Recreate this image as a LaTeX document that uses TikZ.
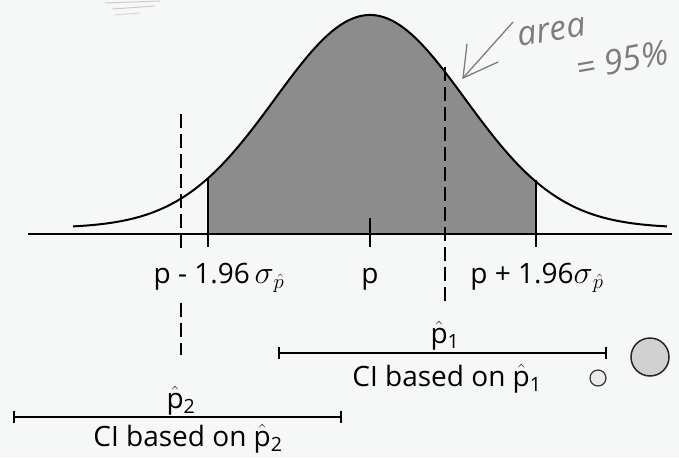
\documentclass[tikz,border=0pt]{standalone}
\usepackage{amsmath}
\usepackage{fontspec}
\setmainfont{Open Sans}
\definecolor{paper}{RGB}{246,248,247}
\definecolor{areagray}{RGB}{140,140,140}
\definecolor{pencil}{RGB}{125,125,125}
\tikzset{
  curveline/.style={line width=2pt},
  axisline/.style={line width=2pt},
  tickline/.style={line width=1.6pt},
  dashline/.style={line width=1.5pt, dash pattern=on 14pt off 6pt},
  barline/.style={line width=1.8pt, |-|},
  lbl/.style={font=\fontsize{28}{30}\selectfont, inner sep=0pt, anchor=base},
  hand/.style={font=\fontsize{34}{36}\selectfont\itshape, text=pencil, inner sep=0pt},
  handline/.style={draw=pencil, line width=1.3pt, line cap=round}
}
\newcommand{\phat}{\ensuremath{\hat{\text{p}}}}
\newcommand{\sigp}{\ensuremath{\scalebox{1.3}{$\sigma$}_{\hat{p}}}}
\begin{document}
\begin{tikzpicture}[x=1pt,y=-1pt]
\useasboundingbox (0,0) rectangle (679,458);
\fill[paper] (0,0) rectangle (679,458);
% shaded area
\fill[areagray] (208,233) -- plot[domain=208:536, samples=120] (\x, {228 - 213*exp(-((\x-370)/95)^2/2)}) -- (536,233) -- cycle;
% curve
\draw[curveline] plot[domain=73:667, samples=200, smooth] (\x, {228 - 213*exp(-((\x-370)/95)^2/2)});
% axis
\coordinate (axL) at (28,234);
\coordinate (axR) at (672,234);
\draw[axisline] (axL) -- (axR);
% ticks
\coordinate (tLt) at (208,179);
\coordinate (tLb) at (208,247);
\coordinate (tRt) at (536,180);
\coordinate (tRb) at (536,247);
\coordinate (tCt) at (370,218);
\coordinate (tCb) at (370,247);
\draw[tickline] (tLt) -- (tLb);
\draw[tickline] (tRt) -- (tRb);
\draw[tickline] (tCt) -- (tCb);
% labels under axis
\node[lbl] (lminus) at (219,283) {p - 1.96\,\sigp};
\node[lbl] (lp) at (370,283) {p};
\node[lbl] (lplus) at (537,283) {p + 1.96\sigp};
% p-hat 1
\node[lbl] (ph1) at (445,343) {\phat$_{\text{1}}$};
\coordinate (d1t) at (445,67);
\coordinate (d1b) at (445,307);
\draw[dashline] (d1t) -- (d1b);
\coordinate (b1l) at (278,353);
\coordinate (b1r) at (607,353);
\draw[barline] (b1l) -- (b1r);
\node[lbl] (ci1) at (447,386) {CI based on \phat$_{\text{1}}$};
% p-hat 2
\coordinate (d2t) at (181,114);
\coordinate (d2m1) at (181,254);
\coordinate (d2m2) at (181,303);
\coordinate (d2b) at (181,355);
\draw[dashline] (d2t) -- (d2m1);
\draw[dashline] (d2m2) -- (d2b);
\node[lbl] (ph2) at (181,408) {\phat$_{\text{2}}$};
\coordinate (b2l) at (13,417);
\coordinate (b2r) at (342,417);
\draw[barline] (b2l) -- (b2r);
\node[lbl] (ci2) at (188,446) {CI based on \phat$_{\text{2}}$};
% circles
\node[circle, draw=black!80, line width=1.2pt, fill=black!8, minimum size=16pt, inner sep=0pt] (csmall) at (598,378) {};
\node[circle, draw=black!85, line width=1.5pt, fill=black!18, minimum size=38pt, inner sep=0pt] (cbig) at (650,357) {};
% handwritten annotation
\coordinate (arrtip) at (463,78);
\coordinate (arrend) at (513,22);
\coordinate (arrh1) at (467,44);
\coordinate (arrh2) at (498,62);
\draw[handline] (arrtip) -- (arrend);
\draw[handline] (arrtip) -- (arrh1);
\draw[handline] (arrtip) -- (arrh2);
\node[hand, rotate=10] (area) at (552,32) {area};
\node[hand, rotate=10] (pct) at (622,60) {= 95\%};
% faint scribble top-left
\draw[draw=pencil!40, line width=1pt] (105,3) -- (160,1);
\draw[draw=pencil!40, line width=1pt] (112,9) -- (155,6);
\draw[draw=pencil!30, line width=1pt] (115,15) -- (140,13);
\end{tikzpicture}
\end{document}
